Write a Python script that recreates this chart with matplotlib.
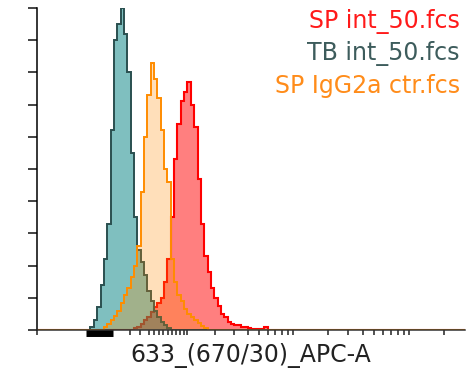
import numpy as np
import matplotlib
matplotlib.use('Agg')
import matplotlib.pyplot as plt
import matplotlib.transforms as mtransforms
from matplotlib.ticker import FixedLocator, NullFormatter

# biexponential-like display (arcsinh), cofactor W
W = 105.0
x_lo, x_hi = -436, 30400
n_bins = 128

# histograms, % of max, per display bin (first bin index + values)
red_start = 29
red_pct = [0.5, 1, 2, 3, 4, 5.5, 7, 8.5, 10, 15, 22, 35, 53, 64, 71, 74, 77, 70, 63,
           47, 33, 23, 18, 13, 10, 7.5, 5, 4, 2.5, 2, 1.6, 1.4, 1.0, 0.9, 0.6, 0.4,
           0.3, 0.2, 0.2, 0.8]
tb_start = 16
tb_pct = [1, 3, 7, 14, 22, 33, 62, 90, 95, 100, 92, 80, 55, 35, 25, 21, 17, 12, 9,
          6, 4, 2.5, 1.5, 0.7]
org_start = 20
org_pct = [1, 2, 3, 4.5, 6, 8.5, 11, 13, 16.5, 20, 26, 43, 60, 73, 83, 78, 72, 62,
           50, 46, 22, 15, 11, 9, 6.5, 5, 4, 3, 2.2, 1.2, 0.5]

labels = ['SP int_50.fcs', 'TB int_50.fcs', 'SP IgG2a ctr.fcs']
label_colors = ['#ff1a1a', '#3d5c5c', '#ff8c1a']

x_ticks = [x_lo, -30, -10, 10, 20, 30, 40, 50, 60, 70, 80, 90, 100,
           200, 300, 400, 500, 600, 700, 800, 900, 1000,
           2000, 3000, 4000, 5000, 6000, 7000, 8000, 9000, 10000, 20000]
y_ticks = [0, 10, 20, 30, 40, 50, 60, 70, 80, 90, 100]
offscale = [-150, -70]


def fwd(x):
    return np.arcsinh(np.asarray(x, dtype=float) / W)


def inv(y):
    return W * np.sinh(np.asarray(y, dtype=float))


def full(start, vals):
    h = np.zeros(n_bins)
    h[start:start + len(vals)] = vals
    return h


edges = inv(np.linspace(fwd(x_lo), fwd(x_hi), n_bins + 1))

fig = plt.figure(figsize=(4.74, 3.75), dpi=100)
ax = fig.add_axes([37 / 474, 45 / 375, 428 / 474, 322 / 375])
ax.set_xscale('function', functions=(fwd, inv))

# red, then teal, then orange on top
ax.stairs(full(red_start, red_pct), edges, fill=True, color='#ff0000', alpha=0.5, lw=0)
ax.stairs(full(red_start, red_pct), edges, color='#ff0000', lw=1.5)
ax.stairs(full(tb_start, tb_pct), edges, fill=True, color='#008080', alpha=0.5, lw=0)
ax.stairs(full(tb_start, tb_pct), edges, color='#2a4f4f', lw=1.4)
ax.stairs(full(org_start, org_pct), edges, fill=True, color='#ff8c00', alpha=0.27, lw=0)
ax.stairs(full(org_start, org_pct), edges, color='#ff8c00', lw=1.4)

ax.set_xlim(x_lo, x_hi)
ax.set_ylim(0, 100)

ax.xaxis.set_major_locator(FixedLocator(x_ticks))
ax.xaxis.set_major_formatter(NullFormatter())
ax.xaxis.set_minor_locator(FixedLocator([]))
ax.yaxis.set_major_locator(FixedLocator(y_ticks))
ax.yaxis.set_major_formatter(NullFormatter())
ax.tick_params(axis='x', direction='out', length=3.8, width=1.1, color='#222222')
ax.tick_params(axis='y', direction='out', length=6.5, width=1.1, color='#111111')

for s in ['top', 'right']:
    ax.spines[s].set_visible(False)
ax.spines['left'].set_linewidth(1.1)
ax.spines['bottom'].set_linewidth(1.1)
ax.spines['bottom'].set_color('#333333')

# thick mark under the axis near zero
trans = mtransforms.blended_transform_factory(ax.transData, ax.transAxes)
ax.plot(offscale, [-0.008, -0.008], transform=trans, color='black', lw=5,
        solid_capstyle='butt', clip_on=False)

ys = [0.957, 0.86, 0.758]
for lab, c, y in zip(labels, label_colors, ys):
    ax.text(0.988, y, lab, color=c, ha='right', va='center', fontsize=17,
            transform=ax.transAxes)

ax.set_xlabel('633_(670/30)_APC-A', fontsize=17, color='#222222', labelpad=2)

fig.savefig('out.png', dpi=100)
